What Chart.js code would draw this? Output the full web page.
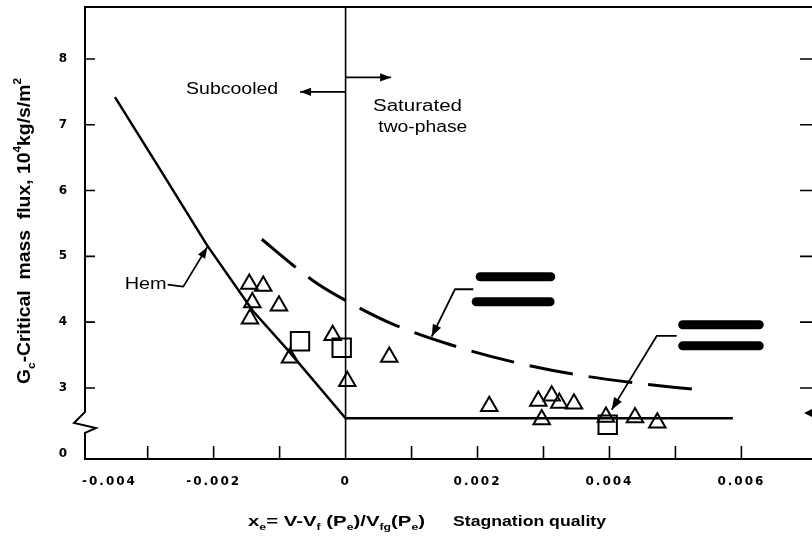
<!DOCTYPE html>
<html>
<head>
<meta charset="utf-8">
<script src="https://cdn.jsdelivr.net/npm/chart.js@4.4.1/dist/chart.umd.min.js"></script>
<style>
  html, body { margin: 0; padding: 0; background: #fff; }
  #wrap { width: 812px; height: 539px; }
</style>
</head>
<body>
<div id="wrap"><canvas id="criticalFlux" width="812" height="539"></canvas></div>
<script>
/* =========================
   DATA
   y is in plot units: the axis is broken, the "0" label sits where 2 would be
========================= */
const xTicks = [-0.004, -0.002, 0, 0.002, 0.004, 0.006];
const xTickLabels = ["-0.004", "-0.002", "0", "0.002", "0.004", "0.006"];
const xMinorTicks = [-0.003, -0.002, -0.001, 0.001, 0.002, 0.003, 0.004, 0.005, 0.006];
const yTicks = [2, 3, 4, 5, 6, 7, 8];
const yTickLabels = ["0", "3", "4", "5", "6", "7", "8"];

// HEM model (solid)
const hemX = [-0.003496, -0.002798, -0.002101, -0.001404, -0.000888, 0, 0.00587];
const hemY = [7.42, 6.30, 5.17, 4.17, 3.59, 2.54, 2.54];

// second model (dashed)
const dashX = [-0.00127, -0.00084, -0.00042, 0, 0.00067, 0.00158, 0.00252, 0.00345, 0.00436, 0.00527];
const dashY = [5.26, 4.90, 4.58, 4.33, 3.99, 3.66, 3.40, 3.21, 3.08, 2.98];

// measured points, triangles
const triX = [-0.00146, -0.001248, -0.001414, -0.00101, -0.001449, -0.000843, -0.000196, 0.000026, 0.000662,
              0.002178, 0.002921, 0.003124, 0.003239, 0.003462, 0.002973, 0.003947, 0.004387, 0.004725];
const triY = [4.58, 4.55, 4.30, 4.25, 4.05, 3.46, 3.80, 3.10, 3.47,
              2.72, 2.80, 2.88, 2.77, 2.76, 2.52, 2.56, 2.55, 2.47];

// measured points, squares
const sqX = [-0.000691, -0.000059, 0.003973];
const sqY = [3.71, 3.61, 2.44];

// blacked-out labels (smeared ink bars)
const smearX0 = [0.00204, 0.00198, 0.00511, 0.00511];
const smearX1 = [0.00311, 0.00310, 0.00627, 0.00627];
const smearY = [4.69, 4.31, 3.96, 3.64];

// pointer arrows, in data units
const subcooledArrow = [[0, 7.50], [-0.00069, 7.50]];
const saturatedArrow = [[0, 7.72], [0.00069, 7.72]];
const hemPointer = [[-0.002697, 4.57], [-0.00246, 4.54], [-0.002097, 5.14]];
const dashPointer = [[0.001936, 4.50], [0.001658, 4.50], [0.001305, 3.78]];
const lowPointer = [[0.005019, 3.79], [0.004716, 3.79], [0.004034, 2.67]];

const notes = [
  { text: "Subcooled", x: -0.00172, y: 7.53, w: 92 },
  { text: "Saturated", x: 0.00109, y: 7.28, w: 89 },
  { text: "two-phase", x: 0.00117, y: 6.96, w: 89 },
  { text: "Hem", x: -0.00303, y: 4.57, w: 42 }
];

const FONT = '"Liberation Sans", Arial, sans-serif';

/* =========================
   HELPERS
========================= */
function toPx(chart, p) {
  return [chart.scales.x.getPixelForValue(p[0]), chart.scales.y.getPixelForValue(p[1])];
}

function drawArrow(ctx, pts, head) {
  ctx.beginPath();
  ctx.moveTo(pts[0][0], pts[0][1]);
  for (let i = 1; i < pts.length; i++) ctx.lineTo(pts[i][0], pts[i][1]);
  ctx.stroke();

  const [x1, y1] = pts[pts.length - 2];
  const [x2, y2] = pts[pts.length - 1];
  const a = Math.atan2(y2 - y1, x2 - x1);
  const w = head * 0.38;
  ctx.beginPath();
  ctx.moveTo(x2, y2);
  ctx.lineTo(x2 - head * Math.cos(a) + w * Math.sin(a), y2 - head * Math.sin(a) - w * Math.cos(a));
  ctx.lineTo(x2 - head * Math.cos(a) - w * Math.sin(a), y2 - head * Math.sin(a) + w * Math.cos(a));
  ctx.closePath();
  ctx.fill();
}

function fitText(ctx, str, cx, cy, width, font) {
  ctx.save();
  ctx.font = font;
  const m = ctx.measureText(str).width;
  ctx.translate(cx, cy);
  ctx.scale(width / m, 1);
  ctx.textAlign = "center";
  ctx.textBaseline = "middle";
  ctx.fillText(str, 0, 0);
  ctx.restore();
}

// runs: [{t, k}] where k is undefined | "sub" | "sup"; drawn from (0,0) on the baseline
function drawRuns(ctx, runs, size, width) {
  const fontFor = r => `bold ${r.k ? Math.round(size * 0.62) : size}px ${FONT}`;
  let total = 0;
  runs.forEach(r => { ctx.font = fontFor(r); total += ctx.measureText(r.t).width; });
  ctx.save();
  ctx.scale(width / total, 1);
  ctx.textAlign = "left";
  ctx.textBaseline = "alphabetic";
  let cx = 0;
  runs.forEach(r => {
    ctx.font = fontFor(r);
    const dy = r.k === "sub" ? size * 0.28 : r.k === "sup" ? -size * 0.5 : 0;
    ctx.fillText(r.t, cx, dy);
    cx += ctx.measureText(r.t).width;
  });
  ctx.restore();
}

/* =========================
   FRAME, TICKS, NOTES
========================= */
const figureDecor = {
  id: "figureDecor",
  beforeDraw(chart) {
    chart.ctx.letterSpacing = "2px"; // tick labels are widely spaced in the scan
  },
  beforeDatasetsDraw(chart) {
    const { ctx, chartArea: a, scales: { x, y } } = chart;
    ctx.letterSpacing = "0px";
    ctx.save();
    ctx.strokeStyle = "#000";
    ctx.fillStyle = "#000";
    ctx.lineWidth = 2;

    // box with the axis break on the left side
    const breakHi = y.getPixelForValue(2.635);
    const breakLo = y.getPixelForValue(2.316);
    ctx.beginPath();
    ctx.moveTo(a.right, a.top);
    ctx.lineTo(a.left, a.top);
    ctx.lineTo(a.left, breakHi);
    ctx.lineTo(a.left - 11, breakHi + 11);
    ctx.lineTo(a.left + 11, breakHi + 16);
    ctx.lineTo(a.left, breakLo);
    ctx.lineTo(a.left, a.bottom);
    ctx.lineTo(a.right, a.bottom);
    ctx.stroke();

    // inward ticks
    ctx.lineWidth = 1.6;
    ctx.beginPath();
    yTicks.slice(1).forEach(v => {
      const py = y.getPixelForValue(v);
      ctx.moveTo(a.left, py); ctx.lineTo(a.left + 10, py);
      ctx.moveTo(a.right, py); ctx.lineTo(a.right - 12, py);
    });
    xMinorTicks.forEach(v => {
      const px = x.getPixelForValue(v);
      ctx.moveTo(px, a.bottom); ctx.lineTo(px, a.bottom - 13);
    });
    ctx.stroke();

    // clipped arrow tip at the right edge
    const py = y.getPixelForValue(2.62);
    ctx.beginPath();
    ctx.moveTo(a.right - 8, py);
    ctx.lineTo(a.right, py - 4);
    ctx.lineTo(a.right, py + 4);
    ctx.closePath();
    ctx.fill();
    ctx.restore();
  },
  afterDatasetsDraw(chart) {
    const { ctx } = chart;
    ctx.save();
    ctx.strokeStyle = "#000";
    ctx.fillStyle = "#000";
    ctx.lineWidth = 1.8;
    ctx.lineJoin = "round";

    drawArrow(ctx, subcooledArrow.map(p => toPx(chart, p)), 11);
    drawArrow(ctx, saturatedArrow.map(p => toPx(chart, p)), 11);
    drawArrow(ctx, hemPointer.map(p => toPx(chart, p)), 11);
    drawArrow(ctx, dashPointer.map(p => toPx(chart, p)), 12);
    drawArrow(ctx, lowPointer.map(p => toPx(chart, p)), 12);

    notes.forEach(n => {
      const [px, py] = toPx(chart, [n.x, n.y]);
      fitText(ctx, n.text, px, py, n.w, `16px ${FONT}`);
    });

    // y title (rotated, reads bottom to top)
    ctx.save();
    ctx.translate(30, 384);
    ctx.rotate(-Math.PI / 2);
    drawRuns(ctx, [
      { t: "G" }, { t: "c", k: "sub" }, { t: "-Critical  mass  flux, 10" },
      { t: "4", k: "sup" }, { t: "kg/s/m" }, { t: "2", k: "sup" }
    ], 18, 306);
    ctx.restore();

    // x title
    ctx.save();
    ctx.translate(248, 526);
    drawRuns(ctx, [
      { t: "x" }, { t: "e", k: "sub" }, { t: "= V-V" }, { t: "f", k: "sub" }, { t: " (P" },
      { t: "e", k: "sub" }, { t: ")/V" }, { t: "fg", k: "sub" }, { t: "(P" }, { t: "e", k: "sub" }, { t: ")" }
    ], 15, 177);
    ctx.restore();
    ctx.save();
    ctx.translate(453, 526);
    drawRuns(ctx, [{ t: "Stagnation quality" }], 15, 153);
    ctx.restore();

    ctx.restore();
  }
};

/* =========================
   CHART
========================= */
(function initChart() {
  const canvas = document.getElementById("criticalFlux");
  const pts = (xs, ys) => xs.map((x, i) => ({ x, y: ys[i] }));

  const smearSets = smearY.map((yv, i) => ({
    type: "line",
    label: "label " + (i + 1),
    data: [{ x: smearX0[i], y: yv }, { x: smearX1[i], y: yv }],
    borderColor: "#000",
    borderWidth: 9,
    borderCapStyle: "round",
    pointRadius: 0
  }));

  new Chart(canvas, {
    type: "scatter",
    data: {
      datasets: [
        {
          type: "line",
          label: "Hem",
          data: pts(hemX, hemY),
          borderColor: "#000",
          borderWidth: 2.5,
          pointRadius: 0,
          tension: 0
        },
        {
          type: "line",
          label: "dashed model",
          data: pts(dashX, dashY),
          borderColor: "#000",
          borderWidth: 3,
          borderDash: [44, 16],
          pointRadius: 0,
          cubicInterpolationMode: "monotone"
        },
        {
          type: "line",
          label: "saturation line",
          data: [{ x: 0, y: 1.9 }, { x: 0, y: 8.9 }],
          borderColor: "#000",
          borderWidth: 1.6,
          pointRadius: 0
        },
        {
          label: "data (triangles)",
          data: pts(triX, triY),
          pointStyle: "triangle",
          pointRadius: 9.5,
          pointBorderWidth: 2,
          borderColor: "#000",
          backgroundColor: "rgba(0,0,0,0)"
        },
        {
          label: "data (squares)",
          data: pts(sqX, sqY),
          pointStyle: "rect",
          pointRadius: 13,
          pointBorderWidth: 2,
          borderColor: "#000",
          backgroundColor: "rgba(0,0,0,0)"
        },
        ...smearSets
      ]
    },
    options: {
      responsive: false,
      animation: false,
      devicePixelRatio: 1,
      layout: { autoPadding: false, padding: { top: 7, right: 0, bottom: 0, left: 0 } },
      plugins: { legend: { display: false }, tooltip: { enabled: false } },
      scales: {
        x: {
          type: "linear",
          min: -0.00395,
          max: 0.00707,
          grid: { display: false, drawTicks: false },
          border: { display: false },
          afterBuildTicks: axis => { axis.ticks = xTicks.map(v => ({ value: v })); },
          afterFit: axis => {
            axis.height = 80;
            axis.paddingLeft = 0;
            axis.paddingRight = 0;
          },
          ticks: {
            autoSkip: false,
            maxRotation: 0,
            padding: 16,
            color: "#000",
            font: { family: '"DejaVu Sans", sans-serif', size: 12, weight: "bold" },
            // the first label sits right of its tick in the original
            callback: (v, i) => (i === 0 ? "         " : "") + xTickLabels[i]
          }
        },
        y: {
          type: "linear",
          min: 1.92,
          max: 8.79,
          grid: { display: false, drawTicks: false },
          border: { display: false },
          afterBuildTicks: axis => { axis.ticks = yTicks.map(v => ({ value: v })); },
          afterFit: axis => {
            axis.width = 85;
            axis.paddingTop = 0;
            axis.paddingBottom = 0;
          },
          ticks: {
            padding: 16,
            color: "#000",
            font: { family: '"DejaVu Sans", sans-serif', size: 12, weight: "bold" },
            callback: (v, i) => yTickLabels[i]
          }
        }
      }
    },
    plugins: [figureDecor]
  });
})();
</script>
</body>
</html>
